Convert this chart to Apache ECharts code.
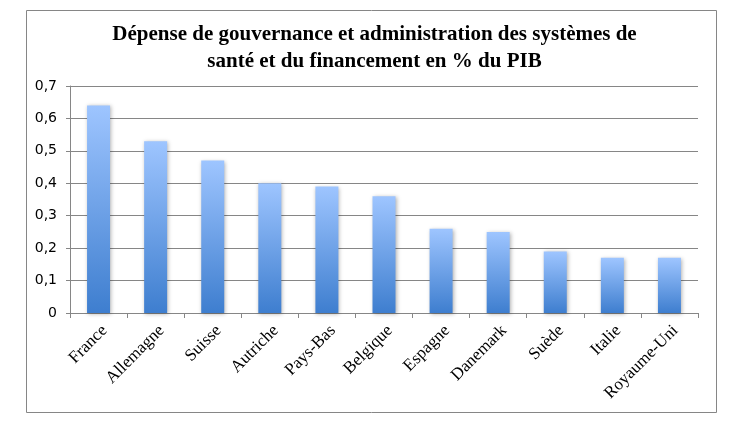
<!DOCTYPE html>
<html>
<head>
<meta charset="utf-8">
<script src="https://cdn.jsdelivr.net/npm/echarts@6/dist/echarts.min.js"></script>
<style>
  html, body { margin: 0; padding: 0; background: #fff; }
  #chart { width: 749px; height: 423px; }
</style>
</head>
<body>
<div id="chart"></div>
<script>
// données
var pays = ['France', 'Allemagne', 'Suisse', 'Autriche', 'Pays-Bas', 'Belgique',
            'Espagne', 'Danemark', 'Suède', 'Italie', 'Royaume-Uni'];
var depensePib = [0.64, 0.53, 0.47, 0.40, 0.39, 0.36, 0.26, 0.25, 0.19, 0.17, 0.17];
var titre = 'Dépense de gouvernance et administration des systèmes de\nsanté et du financement en % du PIB';

var myChart = echarts.init(document.getElementById('chart'));

var option = {
    animation: false,
    title: {
        text: titre,
        left: 'center',
        top: 16,
        textStyle: {
            fontFamily: 'Liberation Serif',
            fontWeight: 'bold',
            fontSize: 21,
            lineHeight: 27,
            color: '#000'
        }
    },
    graphic: [{
        type: 'rect',
        shape: { x: 26.5, y: 10.5, width: 690, height: 402 },
        style: { fill: 'none', stroke: '#868686', lineWidth: 1 },
        silent: true
    }],
    grid: {
        left: 70,
        right: 51,
        top: 86,
        bottom: 110
    },
    xAxis: {
        type: 'category',
        data: pays,
        axisLine: { lineStyle: { color: '#868686' } },
        axisTick: { show: true, length: 5, lineStyle: { color: '#868686' } },
        axisLabel: {
            rotate: 45,
            interval: 0,
            margin: 9,
            verticalAlign: 'top',
            fontFamily: 'Liberation Serif',
            fontSize: 17,
            color: '#000'
        }
    },
    yAxis: {
        type: 'value',
        min: 0,
        max: 0.7,
        interval: 0.1,
        axisLine: { show: true, lineStyle: { color: '#868686' } },
        axisTick: { show: true, length: 4, lineStyle: { color: '#868686' } },
        splitLine: { lineStyle: { color: '#868686' } },
        axisLabel: {
            margin: 13,
            fontFamily: 'DejaVu Sans',
            fontSize: 14,
            color: '#000',
            formatter: function (v) {
                return String(Math.round(v * 10) / 10).replace('.', ',');
            }
        }
    },
    series: [{
        type: 'bar',
        data: depensePib,
        barWidth: 23,
        itemStyle: {
            color: new echarts.graphic.LinearGradient(0, 0, 0, 1, [
                { offset: 0, color: '#9ec5ff' },
                { offset: 1, color: '#3e7ecf' }
            ]),
            shadowBlur: 4,
            shadowOffsetX: 1,
            shadowOffsetY: 1,
            shadowColor: 'rgba(0,0,0,0.3)'
        }
    }]
};

myChart.setOption(option);
</script>
</body>
</html>
